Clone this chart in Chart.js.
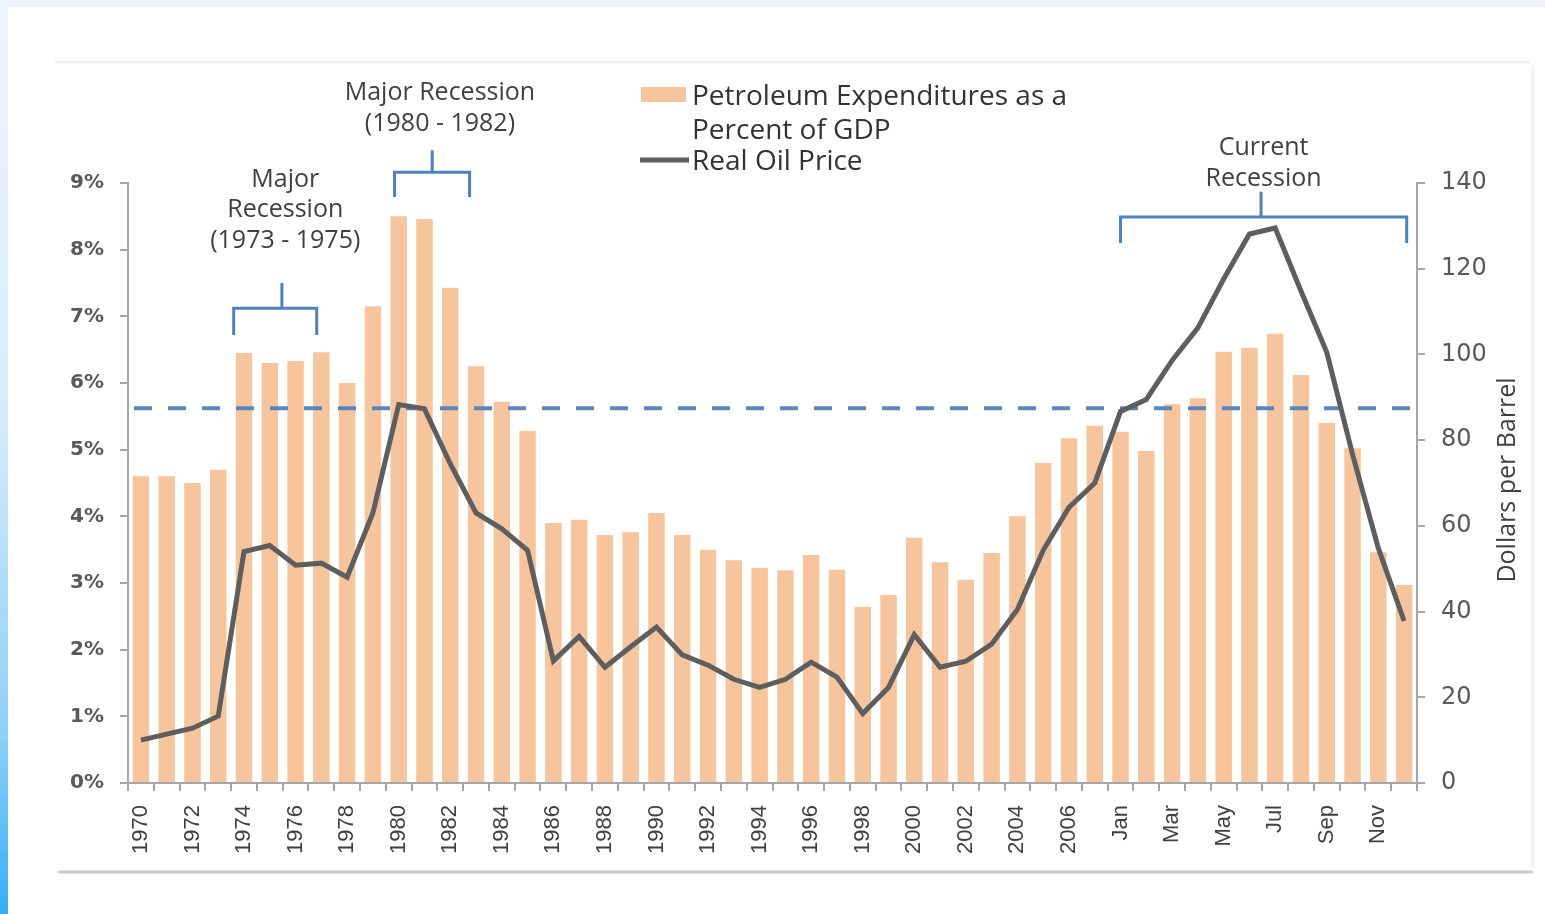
<!DOCTYPE html>
<html lang="en">
<head>
<meta charset="UTF-8">
<title>Petroleum Expenditures and Real Oil Price</title>
<script src="https://cdn.jsdelivr.net/npm/chart.js"></script>
<style>
  html, body { margin: 0; padding: 0; background: #fff; overflow: hidden; }
  canvas { display: block; }
</style>
</head>
<body>
<canvas id="myChart" width="1545" height="914"></canvas>
<script>
// data
const years = ['1970','1971','1972','1973','1974','1975','1976','1977','1978','1979',
               '1980','1981','1982','1983','1984','1985','1986','1987','1988','1989',
               '1990','1991','1992','1993','1994','1995','1996','1997','1998','1999',
               '2000','2001','2002','2003','2004','2005','2006','2007'];
const months = ['Jan','Feb','Mar','Apr','May','Jun','Jul','Aug','Sep','Oct','Nov','Dec'];
const categories = years.concat(months);

// Petroleum expenditures as a percent of GDP
const petroleumPct = [4.6, 4.6, 4.5, 4.7, 6.45, 6.3, 6.33, 6.46, 6.0, 7.15,
                      8.5, 8.46, 7.43, 6.25, 5.72, 5.28, 3.9, 3.95, 3.72, 3.76,
                      4.05, 3.72, 3.5, 3.34, 3.23, 3.19, 3.42, 3.2, 2.64, 2.82,
                      3.68, 3.31, 3.05, 3.45, 4.0, 4.8, 5.17, 5.36,
                      5.27, 4.98, 5.68, 5.77, 6.47, 6.53, 6.74, 6.12, 5.4, 5.02, 3.46, 2.97];

// Real oil price, dollars per barrel
const realOilPrice = [10, 11.4, 12.8, 15.6, 54, 55.4, 50.8, 51.3, 48, 63,
                      88.3, 87.3, 74.5, 63, 59.3, 54.3, 28.5, 34.2, 27, 31.8,
                      36.4, 29.9, 27.5, 24.2, 22.3, 24.2, 28.2, 24.7, 16.2, 22.3,
                      34.6, 27, 28.4, 32.4, 40.5, 54.3, 64.3, 70,
                      86.7, 89.5, 98.6, 106.2, 117.6, 128.1, 129.5, 114.8, 100.5, 76.7, 54.8, 37.8];

const pctTicks = [0, 1, 2, 3, 4, 5, 6, 7, 8, 9];
const priceTicks = [0, 20, 40, 60, 80, 100, 120, 140];
const averageLevel = 5.62; // dashed reference line, percent of GDP

const barColor = '#f7c59d';
const lineColor = '#5e5e5e';
const bracketColor = '#4f81bd';
const textColor = '#404040';

// recession brackets (x in category index units, y in percent units)
const recessions = [
    { lines: ['Major', 'Recession', '(1973 - 1975)'], textX: 5.6, textY: [9.05, 8.6, 8.13],
      from: 3.6, to: 6.82, mid: 5.47, bar: 7.12, tip: 6.72, stem: 7.5 },
    { lines: ['Major Recession', '(1980 - 1982)'], textX: 11.6, textY: [10.35, 9.88],
      from: 9.84, to: 12.75, mid: 11.3, bar: 9.16, tip: 8.79, stem: 9.49 },
    { lines: ['Current', 'Recession'], textX: 43.55, textY: [9.52, 9.06],
      from: 38.0, to: 49.1, mid: 43.45, bar: 8.49, tip: 8.1, stem: 8.87 }
];

const decorPlugin = {
    id: 'decor',
    beforeDraw(chart) {
        const ctx = chart.ctx;
        const w = chart.width, h = chart.height;
        ctx.save();
        ctx.fillStyle = '#ffffff';
        ctx.fillRect(0, 0, w, h);
        // light frame round the slide
        ctx.fillStyle = '#eef4fc';
        ctx.fillRect(0, 0, w, 7);
        const g = ctx.createLinearGradient(0, 0, 0, h);
        g.addColorStop(0, '#eef5fd');
        g.addColorStop(0.45, '#d6ecfc');
        g.addColorStop(0.8, '#8fd0f8');
        g.addColorStop(1, '#36aef4');
        ctx.fillStyle = g;
        ctx.fillRect(0, 0, 8, h);
        // faint frame lines
        ctx.strokeStyle = '#f2f2f2';
        ctx.lineWidth = 3;
        ctx.beginPath();
        ctx.moveTo(55, 62); ctx.lineTo(1530, 62);
        ctx.moveTo(1533, 65); ctx.lineTo(1533, 868);
        ctx.stroke();
        ctx.strokeStyle = '#c9c9c9';
        ctx.lineWidth = 3;
        ctx.beginPath();
        ctx.moveTo(58, 872); ctx.lineTo(1533, 872);
        ctx.stroke();
        ctx.restore();
    },
    afterDatasetDraw(chart, args) {
        if (chart.data.datasets[args.index].type !== 'bar') return;
        const ctx = chart.ctx;
        const area = chart.chartArea;
        const y = chart.scales.y.getPixelForValue(averageLevel);
        ctx.save();
        ctx.strokeStyle = '#5b86bd';
        ctx.lineWidth = 4;
        ctx.setLineDash([18, 16]);
        ctx.beginPath();
        ctx.moveTo(area.left + 6, y);
        ctx.lineTo(area.right, y);
        ctx.stroke();
        ctx.restore();
    },
    afterDraw(chart) {
        const ctx = chart.ctx;
        const xs = chart.scales.x, ys = chart.scales.y;
        ctx.save();

        // recession brackets and their labels
        ctx.font = '25px "Open Sans"';
        ctx.fillStyle = textColor;
        ctx.textAlign = 'center';
        ctx.textBaseline = 'middle';
        recessions.forEach(r => {
            const tx = xs.getPixelForValue(r.textX);
            r.lines.forEach((t, i) => ctx.fillText(t, tx, ys.getPixelForValue(r.textY[i])));
            const x1 = xs.getPixelForValue(r.from), x2 = xs.getPixelForValue(r.to);
            const xm = xs.getPixelForValue(r.mid);
            const yb = ys.getPixelForValue(r.bar), yt = ys.getPixelForValue(r.tip);
            const yst = ys.getPixelForValue(r.stem);
            ctx.strokeStyle = bracketColor;
            ctx.lineWidth = 3;
            ctx.beginPath();
            ctx.moveTo(x1, yt); ctx.lineTo(x1, yb); ctx.lineTo(x2, yb); ctx.lineTo(x2, yt);
            ctx.moveTo(xm, yb); ctx.lineTo(xm, yst);
            ctx.stroke();
        });

        // legend
        ctx.textAlign = 'left';
        ctx.font = '28px "Open Sans"';
        ctx.fillStyle = barColor;
        ctx.fillRect(641, 87, 45, 15);
        ctx.fillStyle = '#333333';
        ctx.fillText('Petroleum Expenditures as a', 692, 97);
        ctx.fillText('Percent of GDP', 692, 131);
        ctx.fillText('Real Oil Price', 692, 162);
        ctx.strokeStyle = lineColor;
        ctx.lineWidth = 5;
        ctx.beginPath();
        ctx.moveTo(640, 160); ctx.lineTo(689, 160);
        ctx.stroke();

        // right axis title, reading bottom to top
        ctx.translate(1508, 480);
        ctx.rotate(-Math.PI / 2);
        ctx.textAlign = 'center';
        ctx.font = '25px "Open Sans"';
        ctx.fillStyle = textColor;
        ctx.fillText('Dollars per Barrel', 0, 0);
        ctx.restore();
    }
};

const ctx = document.getElementById('myChart').getContext('2d');
const myChart = new Chart(ctx, {
    data: {
        labels: categories,
        datasets: [{
            type: 'line',
            label: 'Real Oil Price',
            data: realOilPrice,
            yAxisID: 'y2',
            borderColor: lineColor,
            borderWidth: 5,
            pointRadius: 0,
            tension: 0,
            order: 0
        }, {
            type: 'bar',
            label: 'Petroleum Expenditures as a Percent of GDP',
            data: petroleumPct,
            yAxisID: 'y',
            backgroundColor: barColor,
            barPercentage: 0.64,
            categoryPercentage: 1.0,
            order: 1
        }]
    },
    options: {
        responsive: false,
        animation: false,
        layout: { padding: { top: 183, left: 0, right: 0, bottom: 0 } },
        plugins: {
            legend: { display: false },
            tooltip: { enabled: false }
        },
        scales: {
            x: {
                offset: true,
                grid: { drawOnChartArea: false, tickLength: 8, color: '#a6a6a6', lineWidth: 2, offset: true },
                border: { color: '#a6a6a6', width: 2 },
                ticks: {
                    autoSkip: false,
                    maxRotation: 90,
                    minRotation: 90,
                    padding: 14,
                    color: '#404040',
                    font: { family: 'Liberation Sans', size: 22 },
                    callback: (v, i) => (i % 2 === 0 ? categories[i] : '')
                },
                afterFit: s => { s.height = 131; }
            },
            y: {
                position: 'left',
                min: pctTicks[0],
                max: pctTicks[pctTicks.length - 1],
                afterBuildTicks: s => { s.ticks = pctTicks.map(v => ({ value: v })); },
                grid: { drawOnChartArea: false, tickLength: 8, color: '#a6a6a6', lineWidth: 2 },
                border: { color: '#a6a6a6', width: 2 },
                ticks: {
                    padding: 16,
                    color: '#595959',
                    font: { family: 'DejaVu Sans', size: 20, weight: 'bold' },
                    callback: v => v + '%'
                },
                afterFit: s => { s.width = 128; }
            },
            y2: {
                position: 'right',
                min: priceTicks[0],
                max: priceTicks[priceTicks.length - 1],
                afterBuildTicks: s => { s.ticks = priceTicks.map(v => ({ value: v })); },
                grid: { drawOnChartArea: false, tickLength: 8, color: '#a6a6a6', lineWidth: 2 },
                border: { color: '#a6a6a6', width: 2 },
                ticks: {
                    padding: 16,
                    color: '#595959',
                    font: { family: 'DejaVu Sans', size: 24 }
                },
                afterFit: s => { s.width = 128; }
            }
        }
    },
    plugins: [decorPlugin]
});
</script>
</body>
</html>
